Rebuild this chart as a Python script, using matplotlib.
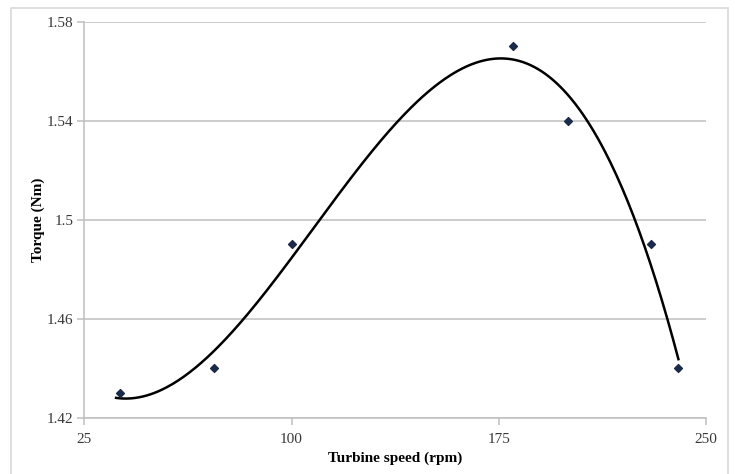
import numpy as np
import matplotlib.pyplot as plt
from matplotlib.patches import Rectangle

plt.rcParams['font.family'] = ['Liberation Serif', 'DejaVu Serif']

# Datos medidos
velocidad = [38, 72, 100, 180, 200, 230, 240]   # rpm
par = [1.43, 1.44, 1.49, 1.57, 1.54, 1.49, 1.44]  # Nm

x_ticks = [25, 100, 175, 250]
y_ticks = [1.42, 1.46, 1.5, 1.54, 1.58]
y_labels = ['1.42', '1.46', '1.5', '1.54', '1.58']

# Linea de tendencia polinomica (orden 3) ajustada a los datos
coef = np.polyfit(velocidad, par, 3)
xs = np.linspace(min(velocidad) - 1.5, max(velocidad), 300)
ys = np.polyval(coef, xs)

fig = plt.figure(figsize=(7.35, 4.74), dpi=100)
ax = fig.add_axes([0.1147, 0.1188, 0.8459, 0.8354])

# Borde exterior del grafico
fig.patches.append(Rectangle((11 / 735, -0.01), 717 / 735, 1 - 8 / 474 + 0.01,
                             transform=fig.transFigure, fill=False,
                             edgecolor='#d9d9d9', linewidth=1.2))

ax.plot(xs, ys, color='black', linewidth=1.8, zorder=3)
ax.scatter(velocidad, par, marker='D', s=16, color='#1c2a4a', zorder=4)

ax.set_xlim(25, 250)
ax.set_ylim(1.42, 1.58)
ax.set_xticks(x_ticks)
ax.set_yticks(y_ticks)
ax.set_yticklabels(y_labels)

ax.grid(axis='y', color='#bfbfbf', linewidth=1.1)
ax.set_axisbelow(True)
for s in ['top', 'right']:
    ax.spines[s].set_visible(False)
for s in ['left', 'bottom']:
    ax.spines[s].set_color('#bfbfbf')
    ax.spines[s].set_linewidth(1.1)
ax.tick_params(colors='#bfbfbf', length=5, width=1.1, labelcolor='#383838', labelsize=11)
ax.tick_params(axis='x', pad=6)
ax.tick_params(axis='y', pad=3)

ax.set_xlabel('Turbine speed (rpm)', fontweight='bold', fontsize=11, labelpad=4)
ax.set_ylabel('Torque (Nm)', fontweight='bold', fontsize=11, labelpad=1)

fig.savefig('out.png', dpi=100)
